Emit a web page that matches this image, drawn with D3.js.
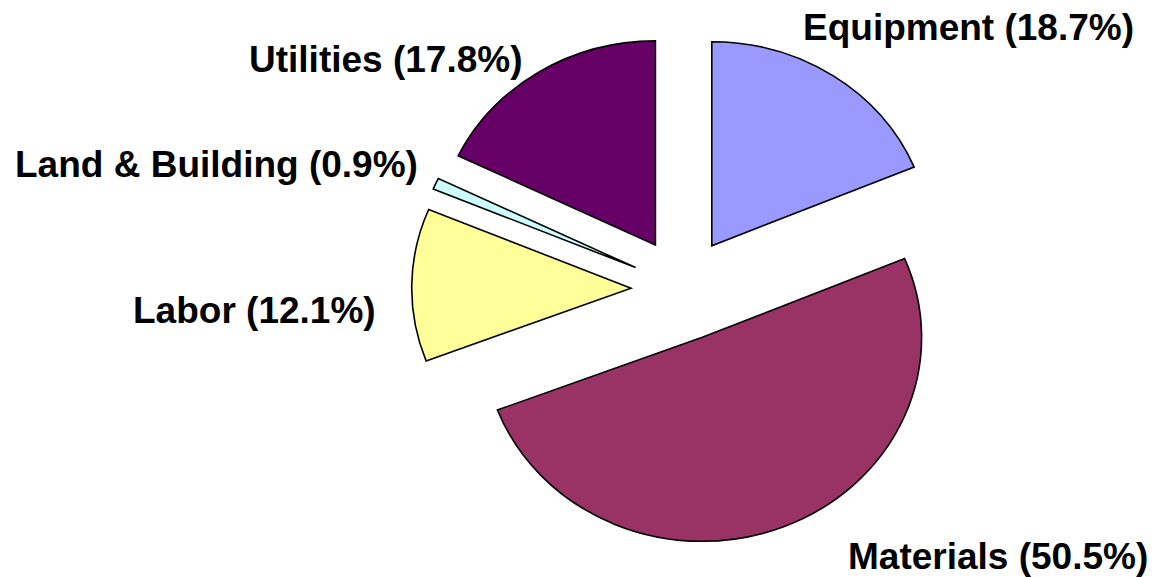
<!DOCTYPE html>
<html>
<head>
<meta charset="utf-8">
<script src="https://cdn.jsdelivr.net/npm/d3@7"></script>
<style>
  html, body { margin: 0; padding: 0; background: #fff; }
  svg { display: block; }
  .slice-label { font-family: Arial, "Liberation Sans", sans-serif; font-weight: bold; font-size: 37px; fill: #000; }
</style>
</head>
<body>
<div id="chart"></div>
<script>
// data, clockwise from 12 o'clock
const categories = ['Equipment', 'Materials', 'Labor', 'Land & Building', 'Utilities'];
const shares = [18.7, 50.5, 12.1, 0.9, 17.8];
const colors = ['#9999FF', '#993366', '#FFFF99', '#CCFFFF', '#660066'];

const width = 1152;
const height = 577;

// pie geometry (the original is a little wider than tall)
const cx = 683;
const cy = 289;
const radius = 204;
const stretchX = 1.075;
const explode = 52;

// label anchors (left x, baseline y)
const labelPos = [
  [803, 40],
  [848, 569],
  [133, 323],
  [15, 177],
  [249, 72],
];

const svg = d3.select('#chart').append('svg').attr('width', width).attr('height', height);

const pie = d3.pie().sort(null).value((d) => d)(shares);
const arc = d3.arc().innerRadius(0).outerRadius(radius);

const chart = svg.append('g').attr('transform', `translate(${cx},${cy})`);

chart
  .selectAll('.slice')
  .data(pie)
  .enter()
  .append('g')
  .classed('slice', true)
  .attr('transform', (d) => {
    const mid = (d.startAngle + d.endAngle) / 2;
    const dx = explode * Math.sin(mid);
    const dy = -explode * Math.cos(mid);
    return `translate(${dx},${dy}) scale(${stretchX},1)`;
  })
  .append('path')
  .attr('d', arc)
  .attr('fill', (d, i) => colors[i])
  .attr('stroke', '#000')
  .attr('stroke-width', 1.6)
  .attr('stroke-linejoin', 'miter')
  .attr('vector-effect', 'non-scaling-stroke');

svg
  .selectAll('.slice-label')
  .data(categories)
  .enter()
  .append('text')
  .classed('slice-label', true)
  .attr('x', (d, i) => labelPos[i][0])
  .attr('y', (d, i) => labelPos[i][1])
  .text((d, i) => `${d} (${shares[i].toFixed(1)}%)`);
</script>
</body>
</html>
